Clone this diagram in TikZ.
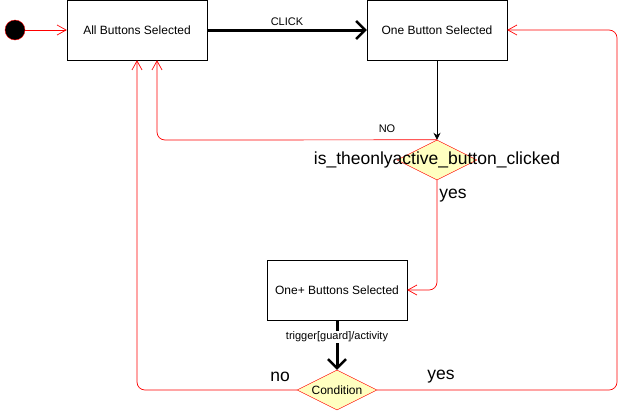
\documentclass[tikz,border=0pt]{standalone}
\usepackage{fontspec}
\setmainfont{Liberation Sans}
\usetikzlibrary{arrows.meta,shapes.geometric}
\definecolor{dyellow}{HTML}{FFFFC0}
\tikzset{
  statebox/.style={draw=black,fill=white,minimum width=140pt,minimum height=60pt,inner sep=0pt,font=\fontsize{12}{14}\selectfont},
  decision/.style={diamond,draw=red,fill=dyellow,minimum width=80pt,minimum height=40pt,inner sep=0pt,aspect=2},
  redline/.style={draw=red,line width=0.7pt,rounded corners=8pt,-{Straight Barb[length=9pt,width=10pt]}},
  thickarrow/.style={draw=black,line width=3pt,-{Straight Barb[length=9pt,width=18pt,line width=2.5pt]}},
  smalllabel/.style={font=\fontsize{11}{13}\selectfont,inner sep=1pt},
  biglabel/.style={font=\fontsize{17.5}{20}\selectfont,inner sep=1pt}
}
\begin{document}
\begin{tikzpicture}[x=1pt,y=-1pt]
\useasboundingbox (0,0) rectangle (628,410);
\node[circle,draw=red,fill=black,minimum size=20pt,inner sep=0pt] (init) at (15,30) {};
\node[statebox] (all) at (137,30) {All Buttons Selected};
\node[statebox] (one) at (437,30) {One Button Selected};
\node[statebox] (plus) at (337,290) {One+ Buttons Selected};
\node[decision] (d1) at (437,160) {};
\node[biglabel] (d1t) at (437,160) {is\_theonlyactive\_button\_clicked};
\node[decision] (d2) at (337,390) {\fontsize{12}{14}\selectfont Condition};

\draw[redline] (init.east) -- (all.west);
\draw[thickarrow] (all.east) -- node[above=2pt,smalllabel]{CLICK} (one.west);
\draw[black,line width=0.8pt,-{Stealth[length=7pt,width=7pt]}] (one.south) -- (d1.north);
\draw[redline] (d1.north) -- (157,140) -- (all.south -| 157,0);
\node[smalllabel] (no1) at (387,129) {NO};
\draw[redline] (d1.south) -- (437,290) -- (plus.east);
\node[biglabel] (yes1) at (453,196) {yes};
\draw[thickarrow] (plus.south) -- (d2.north);
\node[smalllabel,fill=white] (trig) at (337,337) {trigger[guard]/activity};
\draw[redline] (d2.west) -- (137,390) -- (all.south);
\node[biglabel] (no2) at (280,377) {no};
\draw[redline] (d2.east) -- (617,390) -- (617,30) -- (one.east);
\node[biglabel] (yes2) at (441,377) {yes};
\end{tikzpicture}
\end{document}
